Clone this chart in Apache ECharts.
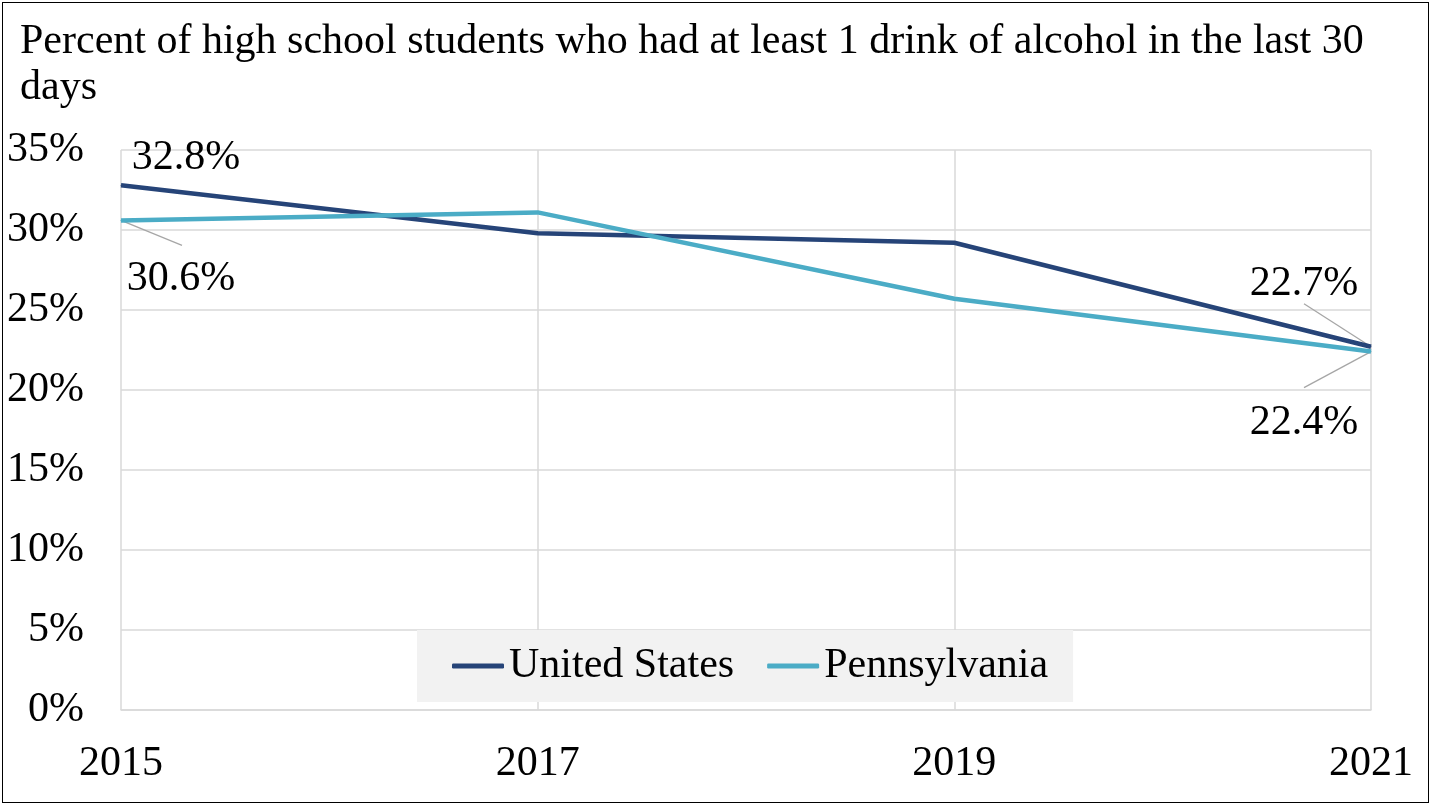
<!DOCTYPE html>
<html>
<head>
<meta charset="utf-8">
<script src="https://cdn.jsdelivr.net/npm/echarts@6/dist/echarts.min.js"></script>
<style>
html,body{margin:0;padding:0;background:#fff;}
#wrap{position:relative;width:1431px;height:805px;}
#chart{position:absolute;left:0;top:0;width:1431px;height:805px;}
#frame{position:absolute;left:2px;top:2px;width:1425px;height:799px;border:1.5px solid #000;pointer-events:none;}
</style>
</head>
<body>
<div id="wrap"><div id="chart"></div><div id="frame"></div></div>
<script>
const titleText = 'Percent of high school students who had at least 1 drink of alcohol in the last 30\ndays';
const years = ['2015', '2017', '2019', '2021'];
const seriesNames = ['United States', 'Pennsylvania'];
const unitedStates = [32.8, 29.8, 29.2, 22.7];
const pennsylvania = [30.6, 31.1, 25.7, 22.4];
const yTicks = [0, 5, 10, 15, 20, 25, 30, 35];
// which points carry a data label
const usLabelled = [0, 3];
const paLabelled = [0, 3];

const FONT = 'Liberation Serif';
const FS = 42;
const colors = ['#264478', '#4bacc6'];
// label placement and leader-line offsets (style only, pixels relative to the point)
const labelPlace = {
  0: {0: {pos: 'top', dx: 65, dy: -1, lead: null}, 3: {pos: 'top', dx: -67, dy: -36, lead: [-67, -43]}},
  1: {0: {pos: 'bottom', dx: 60, dy: 32, lead: [61, 25]}, 3: {pos: 'bottom', dx: -67, dy: 45, lead: [-67, 36]}}
};

function buildData(values, labelled, sIdx) {
  return values.map((v, i) => {
    if (labelled.indexOf(i) < 0) return {value: v};
    return {value: v, label: {show: true, position: labelPlace[sIdx][i].pos}};
  });
}

// leader lines: [category index, value, series index]
const leaderData = [];
[[unitedStates, usLabelled], [pennsylvania, paLabelled]].forEach(([vals, lab], s) => {
  lab.forEach(i => { if (labelPlace[s][i].lead) leaderData.push([i, vals[i], s]); });
});

const chart = echarts.init(document.getElementById('chart'));
const labelCommon = {
  show: false,
  formatter: (p) => p.value.toFixed(1) + '%',
  fontFamily: FONT, fontSize: FS, color: '#000'
};
const lineCommon = {
  type: 'line', symbol: 'circle', symbolSize: 1, showSymbol: true,
  smooth: false, z: 3,
  labelLayout: function (p) {
    const o = (labelPlace[p.seriesIndex] || {})[p.dataIndex];
    return o ? {dx: o.dx, dy: o.dy} : {};
  }
};

chart.setOption({
  animation: false,
  backgroundColor: '#fff',
  title: {
    text: titleText, left: 15, top: 14,
    textStyle: {fontFamily: FONT, fontSize: FS, fontWeight: 'normal', color: '#000', lineHeight: 46}
  },
  legend: {
    data: seriesNames.map(n => ({name: n, icon: 'roundRect'})),
    left: 417, top: 630,
    backgroundColor: '#f2f2f2',
    padding: [15, 25, 15, 35],
    itemWidth: 52, itemHeight: 5, itemGap: 33,
    textStyle: {fontFamily: FONT, fontSize: FS, color: '#000'}
  },
  grid: {left: 121, right: 60, top: 150, bottom: 95, containLabel: false},
  xAxis: {
    type: 'category', data: years, boundaryGap: false,
    axisLine: {show: true, lineStyle: {color: '#d9d9d9', width: 1.5}},
    axisTick: {show: false},
    splitLine: {show: true, lineStyle: {color: '#d9d9d9', width: 1.5}},
    axisLabel: {fontFamily: FONT, fontSize: FS, color: '#000', margin: 33}
  },
  yAxis: {
    type: 'value', min: yTicks[0], max: yTicks[yTicks.length - 1], interval: 5,
    axisLine: {show: false}, axisTick: {show: false},
    splitLine: {show: true, lineStyle: {color: '#d9d9d9', width: 1.5}},
    axisLabel: {fontFamily: FONT, fontSize: FS, color: '#000', margin: 37, formatter: '{value}%'}
  },
  series: [
    Object.assign({}, lineCommon, {
      name: seriesNames[0],
      data: buildData(unitedStates, usLabelled, 0),
      itemStyle: {color: colors[0]},
      lineStyle: {color: colors[0], width: 4.5},
      label: labelCommon
    }),
    Object.assign({}, lineCommon, {
      name: seriesNames[1],
      data: buildData(pennsylvania, paLabelled, 1),
      itemStyle: {color: colors[1]},
      lineStyle: {color: colors[1], width: 4.5},
      label: labelCommon
    }),
    {
      type: 'custom', name: 'leaders', silent: true, z: 2,
      data: leaderData,
      renderItem: function (params, api) {
        const pt = api.coord([api.value(0), api.value(1)]);
        const s = api.value(2);
        const lead = labelPlace[s][api.value(0)].lead;
        return {
          type: 'line',
          shape: {x1: pt[0], y1: pt[1], x2: pt[0] + lead[0], y2: pt[1] + lead[1]},
          style: {stroke: '#a6a6a6', lineWidth: 1.3}
        };
      }
    }
  ]
});
</script>
</body>
</html>
